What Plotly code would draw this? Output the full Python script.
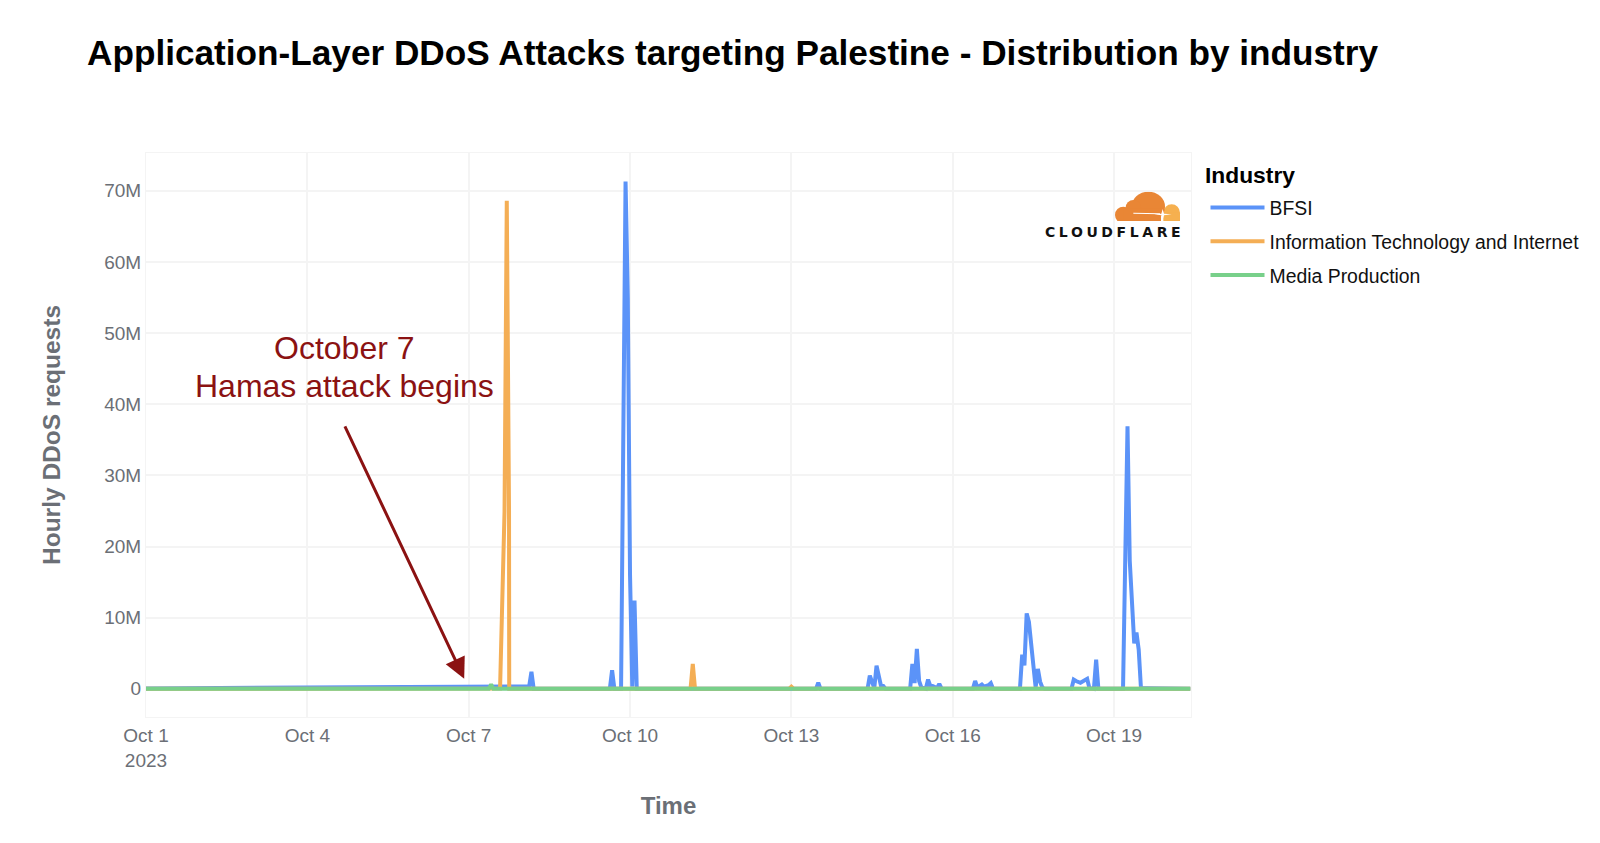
import base64
import plotly.graph_objects as go

# values are in millions of requests
bfsi_times = [
    '2023-10-01 00:00', '2023-10-07 00:00', '2023-10-08 03:00', '2023-10-08 04:00', '2023-10-08 05:00',
    '2023-10-09 15:00', '2023-10-09 16:00', '2023-10-09 17:00', '2023-10-09 20:00', '2023-10-09 22:00',
    '2023-10-09 23:00', '2023-10-10 00:00', '2023-10-10 01:00', '2023-10-10 02:00', '2023-10-10 03:00',
    '2023-10-13 11:00', '2023-10-13 12:00', '2023-10-13 13:00', '2023-10-14 10:00', '2023-10-14 11:00',
    '2023-10-14 13:00', '2023-10-14 14:00', '2023-10-14 16:00', '2023-10-14 17:00', '2023-10-14 18:00',
    '2023-10-15 05:00', '2023-10-15 06:00', '2023-10-15 07:00', '2023-10-15 08:00', '2023-10-15 09:00',
    '2023-10-15 10:00', '2023-10-15 11:00', '2023-10-15 12:00', '2023-10-15 13:00', '2023-10-15 14:00',
    '2023-10-15 15:00', '2023-10-15 17:00', '2023-10-15 18:00', '2023-10-15 19:00', '2023-10-16 09:00',
    '2023-10-16 10:00', '2023-10-16 11:00', '2023-10-16 13:00', '2023-10-16 14:00', '2023-10-16 16:00',
    '2023-10-16 17:00', '2023-10-16 18:00', '2023-10-17 06:00', '2023-10-17 07:00', '2023-10-17 08:00',
    '2023-10-17 09:00', '2023-10-17 10:00', '2023-10-17 13:00', '2023-10-17 14:00', '2023-10-17 15:00',
    '2023-10-17 16:00', '2023-10-17 17:00', '2023-10-18 05:00', '2023-10-18 06:00', '2023-10-18 07:00',
    '2023-10-18 09:00', '2023-10-18 12:00', '2023-10-18 13:00', '2023-10-18 15:00', '2023-10-18 16:00',
    '2023-10-18 17:00', '2023-10-19 04:00', '2023-10-19 06:00', '2023-10-19 07:00', '2023-10-19 09:00',
    '2023-10-19 10:00', '2023-10-19 11:00', '2023-10-19 12:00', '2023-10-19 15:00', '2023-10-19 20:00',
    '2023-10-19 22:00', '2023-10-20 10:00',
]
bfsi_values = [
    0.05, 0.3, 0.35, 2.4, 0,
    0, 2.6, 0, 0, 71.3,
    55, 16, 0.3, 12.4, 0,
    0, 0.86, 0, 0, 1.85,
    0.1, 3.25, 0.4, 0.4, 0,
    0, 3.5, 0.8, 5.6, 1.1,
    0.2, 0.1, 0, 1.3, 0.4,
    0.4, 0.1, 0.7, 0.05, 0,
    1.1, 0.2, 0.6, 0.3, 0.5,
    0.8, 0, 0, 4.8, 3.3,
    10.6, 9.4, 0.2, 2.8, 1.0,
    0.2, 0, 0, 1.3, 1.1,
    0.85, 1.4, 0.1, 0, 4.1,
    0, 0, 36.9, 18, 6.4,
    7.9, 5.5, 0.1, 0.08, 0.05,
    0, 0,
]

it_times = [
    '2023-10-01 00:00', '2023-10-07 14:00', '2023-10-07 16:00', '2023-10-07 17:00', '2023-10-07 18:00',
    '2023-10-07 18:05', '2023-10-11 03:00', '2023-10-11 04:00', '2023-10-11 05:00', '2023-10-12 23:00',
    '2023-10-13 00:00', '2023-10-13 01:00', '2023-10-20 10:00',
]
it_values = [0, 0.05, 25, 68.6, 25, 0, 0, 3.5, 0, 0, 0.3, 0, 0]

media_times = ['2023-10-01 00:00', '2023-10-07 09:00', '2023-10-07 10:00', '2023-10-07 11:00', '2023-10-20 10:00']
media_values = [0, 0, 0.6, 0, 0]

x_ticks = ['2023-10-01', '2023-10-04', '2023-10-07', '2023-10-10', '2023-10-13', '2023-10-16', '2023-10-19']
x_labels = ['Oct 1<br>2023', 'Oct 4', 'Oct 7', 'Oct 10', 'Oct 13', 'Oct 16', 'Oct 19']
y_ticks = [0, 10, 20, 30, 40, 50, 60, 70]
y_labels = ['0', '10M', '20M', '30M', '40M', '50M', '60M', '70M']

FONT = 'Liberation Sans, Arial, sans-serif'
GREY = '#6b6f76'
GRID = '#f4f4f4'
RED = '#8b1212'

# cloud part of the logo
cloud_svg = '''<svg xmlns="http://www.w3.org/2000/svg" viewBox="0 0 195 88">
<g fill="#f6b04f"><circle cx="170" cy="63" r="25"/><rect x="145" y="63" width="50" height="25"/></g>
<g fill="#e98635"><ellipse cx="100" cy="45" rx="50" ry="45"/><circle cx="55" cy="48" r="23"/><circle cx="25" cy="70" r="25"/>
<rect x="25" y="50" width="113" height="38"/></g>
<path d="M55 63 L135 65 L135 68 L55 66 Z" fill="#fff"/>
<path d="M143 52 L147 66 L170 68 L147 71 L143 84 L139 71 L118 68 L139 66 Z" fill="#fff"/>
</svg>'''
cloud_uri = 'data:image/svg+xml;base64,' + base64.b64encode(cloud_svg.encode()).decode()

fig = go.Figure()
for name, times, values, color in [
    ('BFSI', bfsi_times, bfsi_values, '#5b93f8'),
    ('Information Technology and Internet', it_times, it_values, '#f4ae55'),
    ('Media Production', media_times, media_values, '#78d08a'),
]:
    fig.add_trace(go.Scatter(
        x=times,
        y=values,
        mode='lines',
        name=name,
        legendgroup=name,
        line=dict(color=color, width=4)))

fig.update_layout(
    width=1600,
    height=843,
    margin=dict(l=146, r=409, t=153, b=126),
    paper_bgcolor='white',
    plot_bgcolor='white',
    font=dict(family=FONT, size=19, color=GREY),
    title=dict(
        text='<b>Application-Layer DDoS Attacks targeting Palestine - Distribution by industry</b>',
        x=87 / 1600,
        xanchor='left',
        y=1 - 53 / 843,
        yanchor='middle',
        font=dict(size=35.2, color='black')),
    legend=dict(
        x=(1205.5 - 146) / 1045,
        y=(717 - 188.5) / 564,
        xanchor='left',
        yanchor='top',
        itemwidth=54,
        tracegroupgap=5.5,
        font=dict(size=19.4, color='#111111')),
    xaxis=dict(
        range=['2023-10-01 00:00', '2023-10-20 10:20'],
        tickvals=x_ticks,
        ticktext=x_labels,
        tickfont=dict(size=19, color=GREY),
        gridcolor=GRID,
        gridwidth=1.5,
        zeroline=False,
        showline=True,
        linecolor=GRID,
        linewidth=1,
        mirror=True,
        ticks='outside',
        ticklen=1,
        tickcolor='white',
        title=dict(text='<b>Time</b>', font=dict(size=24, color=GREY), standoff=27)),
    yaxis=dict(
        range=[-3.96, 75.3],
        tickvals=y_ticks,
        ticktext=y_labels,
        tickfont=dict(size=19, color=GREY),
        gridcolor=GRID,
        gridwidth=1.5,
        zeroline=False,
        showline=True,
        linecolor=GRID,
        linewidth=1,
        mirror=True,
        title=dict(text='<b>Hourly DDoS requests</b>', font=dict(size=24.5, color=GREY), standoff=36)),
    images=[dict(
        source=cloud_uri,
        xref='paper',
        yref='paper',
        x=(1115 - 146) / 1045,
        y=(717 - 191.7) / 564,
        sizex=65 / 1045,
        sizey=29.3 / 564,
        sizing='stretch',
        xanchor='left',
        yanchor='top',
        layer='above')],
    annotations=[
        dict(
            x='2023-10-06 22:00',
            y=1.4,
            xref='x',
            yref='y',
            ax=-120,
            ay=-254,
            text='',
            showarrow=True,
            arrowhead=2,
            arrowsize=1.4,
            arrowwidth=3,
            arrowcolor=RED),
        dict(
            x=(344 - 146) / 1045,
            y=(717 - 348) / 564,
            xref='paper',
            yref='paper',
            text='October 7',
            showarrow=False,
            xanchor='center',
            yanchor='middle',
            font=dict(size=32, color=RED)),
        dict(
            x=(344 - 146) / 1045,
            y=(717 - 386) / 564,
            xref='paper',
            yref='paper',
            text='Hamas attack begins',
            showarrow=False,
            xanchor='center',
            yanchor='middle',
            font=dict(size=32, color=RED)),
        dict(
            x=(1204 - 146) / 1045,
            y=(717 - 174.5) / 564,
            xref='paper',
            yref='paper',
            text='<b>Industry</b>',
            showarrow=False,
            xanchor='left',
            yanchor='middle',
            xshift=-1,
            font=dict(size=22.8, color='black')),
        dict(
            x=(1185.5 - 146) / 1045,
            y=(717 - 231.6) / 564,
            xref='paper',
            yref='paper',
            text='<b><span style="letter-spacing:3.6px">CLOUDFLARE</span></b>',
            showarrow=False,
            xanchor='right',
            yanchor='middle',
            font=dict(family='DejaVu Sans', size=14, color='#111111')),
    ])

fig.write_html(
    "out.html",
    config={'displayModeBar': False},
    post_script="document.body.style.margin='0';document.body.style.overflow='hidden';")
